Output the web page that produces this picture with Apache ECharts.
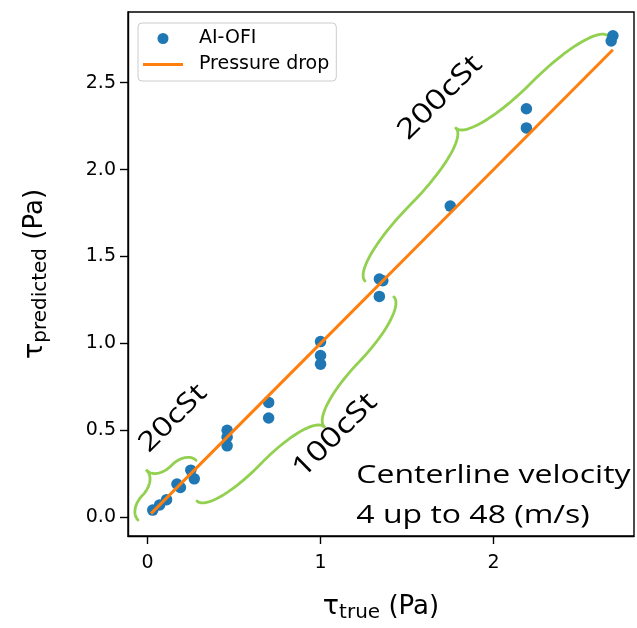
<!DOCTYPE html>
<html><head><meta charset="utf-8">
<script src="https://cdn.jsdelivr.net/npm/echarts@6/dist/echarts.min.js"></script>
<style>html,body{margin:0;padding:0;background:#fff}#c{width:637px;height:628px}</style>
</head><body><div id="c"></div>
<script>
// ---- data ----
const aiTrue = [0.03, 0.07, 0.11, 0.17, 0.19, 0.25, 0.27, 0.46, 0.46, 0.46, 0.70, 0.70, 1.00, 1.00, 1.00, 1.34, 1.36, 1.34, 1.75, 2.19, 2.19, 2.69, 2.68];
const aiPred = [0.04, 0.07, 0.10, 0.19, 0.17, 0.27, 0.22, 0.50, 0.46, 0.41, 0.66, 0.57, 1.01, 0.93, 0.88, 1.37, 1.36, 1.27, 1.79, 2.35, 2.24, 2.77, 2.74];
const pdTrue = [0.02, 0.46, 1.00, 1.75, 2.69];
const pdPred = [0.02, 0.46, 1.00, 1.75, 2.69];
const xTicks = [0, 1, 2];
const yTicks = [0.0, 0.5, 1.0, 1.5, 2.0, 2.5];
// annotations (data coordinates)
const braceFrom = [[-0.055, -0.017], [0.286, 0.092], [1.257, 1.359]];
const braceTo   = [[0.280, 0.327], [1.424, 1.267], [2.662, 2.769]];
const braceDepth = [-28, 40, -43];
const noteText = ['20cSt', '100cSt', '200cSt', 'Centerline velocity', '4 up to 48 (m/s)'];
const noteAt = [[0.147, 0.568], [1.084, 0.470], [1.691, 2.414], [1.207, 0.241], [1.207, 0.006]];
const noteRot = [45, 45, 45, 0, 0];
const noteAlign = ['center', 'center', 'center', 'left', 'left'];
const noteSize = [27, 28, 28, 26, 26];

function braceArms(p1, p2, w) {
  let dx = p2[0] - p1[0], dy = p2[1] - p1[1];
  const len = Math.hypot(dx, dy); dx /= len; dy /= len;
  const px = -dy, py = dx; // perpendicular
  const L = len / 2;
  const arm = (o, ud) => {
    const P = (u, v) => [o[0] + u * ud[0] + v * px, o[1] + u * ud[1] + v * py];
    const pts = [];
    const n = 24;
    for (let i = 0; i <= n; i++) {
      const t = (i / n) * Math.PI / 2;
      pts.push(P(L / 2 - (L / 2) * Math.cos(t), (w / 2) * Math.sin(t)));
    }
    for (let i = 1; i <= n; i++) {
      const t = (i / n) * Math.PI / 2;
      pts.push(P(L / 2 + (L / 2) * Math.sin(t), w - (w / 2) * Math.cos(t)));
    }
    return pts;
  };
  return [arm(p1, [dx, dy]), arm(p2, [-dx, -dy])];
}

const chart = echarts.init(document.getElementById('c'));
const axisFont = 'DejaVu Sans';
const nameRich = {
  t: { fontFamily: axisFont, fontSize: 27, color: '#000' },
  s: { fontFamily: axisFont, fontSize: 20, color: '#000', padding: [12, 0, 0, 0] },
  p: { fontFamily: axisFont, fontSize: 26, color: '#000' }
};
chart.setOption({
  animation: false,
  backgroundColor: '#fff',
  grid: { left: 128, right: 3, top: 12, bottom: 90, show: true, borderColor: '#000', borderWidth: 1.4, backgroundColor: '#fff' },
  legend: {
    left: 138, top: 23, orient: 'vertical',
    data: [{ name: 'AI-OFI', icon: 'circle' }, { name: 'Pressure drop', icon: 'path://M0,0L40,0L40,3L0,3Z' }],
    itemWidth: 40, itemHeight: 11, itemGap: 7,
    padding: [6, 7, 7, 5],
    borderColor: '#cccccc', borderWidth: 1, borderRadius: 4, backgroundColor: 'rgba(255,255,255,0.8)',
    textStyle: { fontFamily: axisFont, fontSize: 19, color: '#000', padding: [0, 0, 0, 11] },
    z: 10
  },
  xAxis: {
    type: 'value', min: -0.113, max: 2.812,
    splitLine: { show: false },
    axisLine: { show: true, onZero: false, lineStyle: { color: '#000', width: 1.4 } },
    axisTick: { show: true, length: 8, lineStyle: { color: '#000', width: 1.4 }, customValues: xTicks },
    axisLabel: { customValues: xTicks, formatter: v => String(v), fontFamily: axisFont, fontSize: 19, color: '#000', margin: 18 },
    name: '{t|τ}{s|true}{p| (Pa)}', nameLocation: 'middle', nameGap: 55,
    nameTextStyle: { rich: nameRich }
  },
  yAxis: {
    type: 'value', min: -0.109, max: 2.907,
    splitLine: { show: false },
    axisLine: { show: true, onZero: false, lineStyle: { color: '#000', width: 1.4 } },
    axisTick: { show: true, length: 8, lineStyle: { color: '#000', width: 1.4 }, customValues: yTicks },
    axisLabel: { customValues: yTicks, formatter: v => v.toFixed(1), fontFamily: axisFont, fontSize: 19, color: '#000', margin: 12 },
    name: '{t|τ}{s|predicted}{p| (Pa)}', nameLocation: 'middle', nameGap: 77, nameRotate: 90,
    nameTextStyle: { rich: nameRich }
  },
  series: [
    {
      name: 'AI-OFI', type: 'scatter', z: 3,
      data: aiTrue.map((x, i) => [x, aiPred[i]]),
      symbol: 'circle', symbolSize: 11.5,
      itemStyle: { color: '#1f77b4', opacity: 1 }
    },
    {
      name: 'Pressure drop', type: 'line', z: 4,
      data: pdTrue.map((x, i) => [x, pdPred[i]]),
      symbol: 'none', showSymbol: false,
      lineStyle: { color: '#ff7f0e', width: 3 },
      itemStyle: { color: '#ff7f0e' }
    },
    {
      type: 'custom', z: 2, silent: true, clip: false,
      data: braceFrom.map((a, i) => [a[0], a[1], braceTo[i][0], braceTo[i][1]]),
      encode: { x: [0, 2], y: [1, 3] },
      renderItem: (params, api) => {
        const p1 = api.coord([api.value(0), api.value(1)]);
        const p2 = api.coord([api.value(2), api.value(3)]);
        const arms = braceArms(p1, p2, braceDepth[params.dataIndex]);
        const st = { stroke: '#92d050', lineWidth: 2.8, fill: null, lineCap: 'round', lineJoin: 'round' };
        return { type: 'group', children: arms.map(a => ({ type: 'polyline', shape: { points: a }, style: st })) };
      }
    },
    {
      type: 'custom', z: 5, silent: true, clip: false,
      data: noteAt.map(p => [p[0], p[1]]),
      renderItem: (params, api) => {
        const i = params.dataIndex;
        const p = api.coord([api.value(0), api.value(1)]);
        return {
          type: 'text', x: p[0], y: p[1], rotation: noteRot[i] * Math.PI / 180, scaleX: 1.23,
          style: { text: noteText[i], fontFamily: 'Open Sans', fontSize: noteSize[i], fill: '#000', align: noteAlign[i], verticalAlign: 'middle' }
        };
      }
    }
  ]
});
</script></body></html>
